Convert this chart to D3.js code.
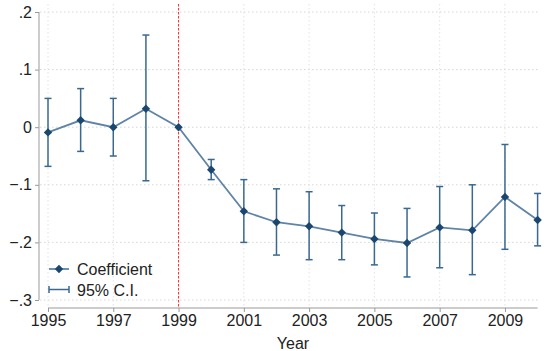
<!DOCTYPE html>
<html>
<head>
<meta charset="utf-8">
<script src="https://cdn.jsdelivr.net/npm/d3@7"></script>
<style>
  body { margin: 0; background: #fff; }
  svg text { font-family: "Liberation Sans", Arial, sans-serif; fill: #222; }
</style>
</head>
<body>
<div id="chart"></div>
<script>
var years = [1995, 1996, 1997, 1998, 1999, 2000, 2001, 2002, 2003, 2004, 2005, 2006, 2007, 2008, 2009, 2010];
var coef  = [-0.009, 0.012, 0, 0.032, 0, -0.074, -0.146, -0.165, -0.172, -0.183, -0.194, -0.201, -0.174, -0.179, -0.121, -0.161];
var ciLo  = [-0.068, -0.042, -0.05, -0.093, null, -0.091, -0.2, -0.222, -0.23, -0.23, -0.239, -0.26, -0.244, -0.256, -0.212, -0.206];
var ciHi  = [0.05, 0.067, 0.05, 0.16, null, -0.056, -0.091, -0.107, -0.112, -0.136, -0.149, -0.141, -0.103, -0.1, -0.03, -0.115];
var xTicks = [1995, 1997, 1999, 2001, 2003, 2005, 2007, 2009];
var yTicks = [0.2, 0.1, 0, -0.1, -0.2, -0.3];
var yLabels = [".2", ".1", "0", "\u2212.1", "\u2212.2", "\u2212.3"];
var eventYear = 1999;

var width = 544, height = 351;
var svg = d3.select('#chart').append('svg')
    .attr('width', width).attr('height', height);

var x = d3.scaleLinear().domain([1995, 2010]).range([48, 537.6]);
var y = d3.scaleLinear().domain([-0.3, 0.2]).range([300, 12]);

var lineCol = '#5f84a8', ciCol = '#3a6890', markCol = '#1a476f';
var fs = '16px';

// grid
svg.selectAll('line.hgrid').data(yTicks).enter().append('line')
    .attr('x1', 40).attr('x2', 540)
    .attr('y1', function (d) { return y(d); }).attr('y2', function (d) { return y(d); })
    .attr('stroke', '#d6d6d6').attr('stroke-width', 1).attr('stroke-dasharray', '1.5,2.5');
svg.selectAll('line.vgrid').data(xTicks).enter().append('line')
    .attr('x1', function (d) { return x(d); }).attr('x2', function (d) { return x(d); })
    .attr('y1', 4).attr('y2', 306)
    .attr('stroke', '#e2e2e2').attr('stroke-width', 1).attr('stroke-dasharray', '1.5,2.5');

// axes
var yAxis = d3.axisLeft(y).tickValues(yTicks).tickSize(4).tickPadding(3)
    .tickFormat(function (d, i) { return yLabels[i]; });
var gy = svg.append('g').attr('transform', 'translate(39,0)').call(yAxis);
gy.select('.domain').attr('stroke', '#999').attr('d', 'M0,' + y(0.2) + 'V' + y(-0.3));
gy.selectAll('.tick line').attr('stroke', '#999');
gy.selectAll('.tick text').style('font-size', fs).attr('fill', '#222');

var xAxis = d3.axisBottom(x).tickValues(xTicks).tickSize(4).tickPadding(3)
    .tickFormat(d3.format('d'));
var gx = svg.append('g').attr('transform', 'translate(0,308)').call(xAxis);
gx.select('.domain').attr('stroke', '#999').attr('d', 'M' + x(1995) + ',0H' + x(2010));
gx.selectAll('.tick line').attr('stroke', '#999');
gx.selectAll('.tick text').style('font-size', fs).attr('fill', '#222');

svg.append('text').attr('x', 293).attr('y', 349).attr('text-anchor', 'middle')
    .style('font-size', fs).text('Year');

// event line
svg.append('line')
    .attr('x1', x(eventYear)).attr('x2', x(eventYear)).attr('y1', 4).attr('y2', 308)
    .attr('stroke', '#ff3030').attr('stroke-width', 1).attr('stroke-dasharray', '2.5,1.5');

// CI
var pts = years.map(function (yr, i) { return {yr: yr, c: coef[i], lo: ciLo[i], hi: ciHi[i]}; });
var ci = pts.filter(function (d) { return d.lo !== null; });
var g = svg.append('g').attr('stroke', ciCol).attr('stroke-width', 1.5);
g.selectAll('line.ci').data(ci).enter().append('line')
    .attr('x1', function (d) { return x(d.yr); }).attr('x2', function (d) { return x(d.yr); })
    .attr('y1', function (d) { return y(d.hi); }).attr('y2', function (d) { return y(d.lo); });
['hi', 'lo'].forEach(function (k) {
    g.selectAll('line.cap' + k).data(ci).enter().append('line')
        .attr('x1', function (d) { return x(d.yr) - 3.5; }).attr('x2', function (d) { return x(d.yr) + 3.5; })
        .attr('y1', function (d) { return y(d[k]); }).attr('y2', function (d) { return y(d[k]); });
});

// coefficient line
var line = d3.line().x(function (d) { return x(d.yr); }).y(function (d) { return y(d.c); });
svg.append('path').datum(pts).attr('d', line)
    .attr('fill', 'none').attr('stroke', lineCol).attr('stroke-width', 1.8);

var r = 4.2;
var diamond = 'M0,' + (-r) + 'L' + r + ',0L0,' + r + 'L' + (-r) + ',0Z';
svg.selectAll('path.mk').data(pts).enter().append('path')
    .attr('d', diamond)
    .attr('transform', function (d) { return 'translate(' + x(d.yr) + ',' + y(d.c) + ')'; })
    .attr('fill', markCol);

// legend
var lg = svg.append('g');
lg.append('line').attr('x1', 49).attr('x2', 69).attr('y1', 269).attr('y2', 269)
    .attr('stroke', lineCol).attr('stroke-width', 1.8);
lg.append('path').attr('d', diamond).attr('transform', 'translate(59,269)').attr('fill', markCol);
lg.append('text').attr('x', 77).attr('y', 274.5).style('font-size', fs).text('Coefficient');
lg.append('line').attr('x1', 49).attr('x2', 69).attr('y1', 289.5).attr('y2', 289.5)
    .attr('stroke', ciCol).attr('stroke-width', 1.5);
lg.append('line').attr('x1', 49).attr('x2', 49).attr('y1', 286).attr('y2', 293)
    .attr('stroke', ciCol).attr('stroke-width', 1.5);
lg.append('line').attr('x1', 69).attr('x2', 69).attr('y1', 286).attr('y2', 293)
    .attr('stroke', ciCol).attr('stroke-width', 1.5);
lg.append('text').attr('x', 77).attr('y', 295.5).style('font-size', fs).text('95% C.I.');
</script>
</body>
</html>
